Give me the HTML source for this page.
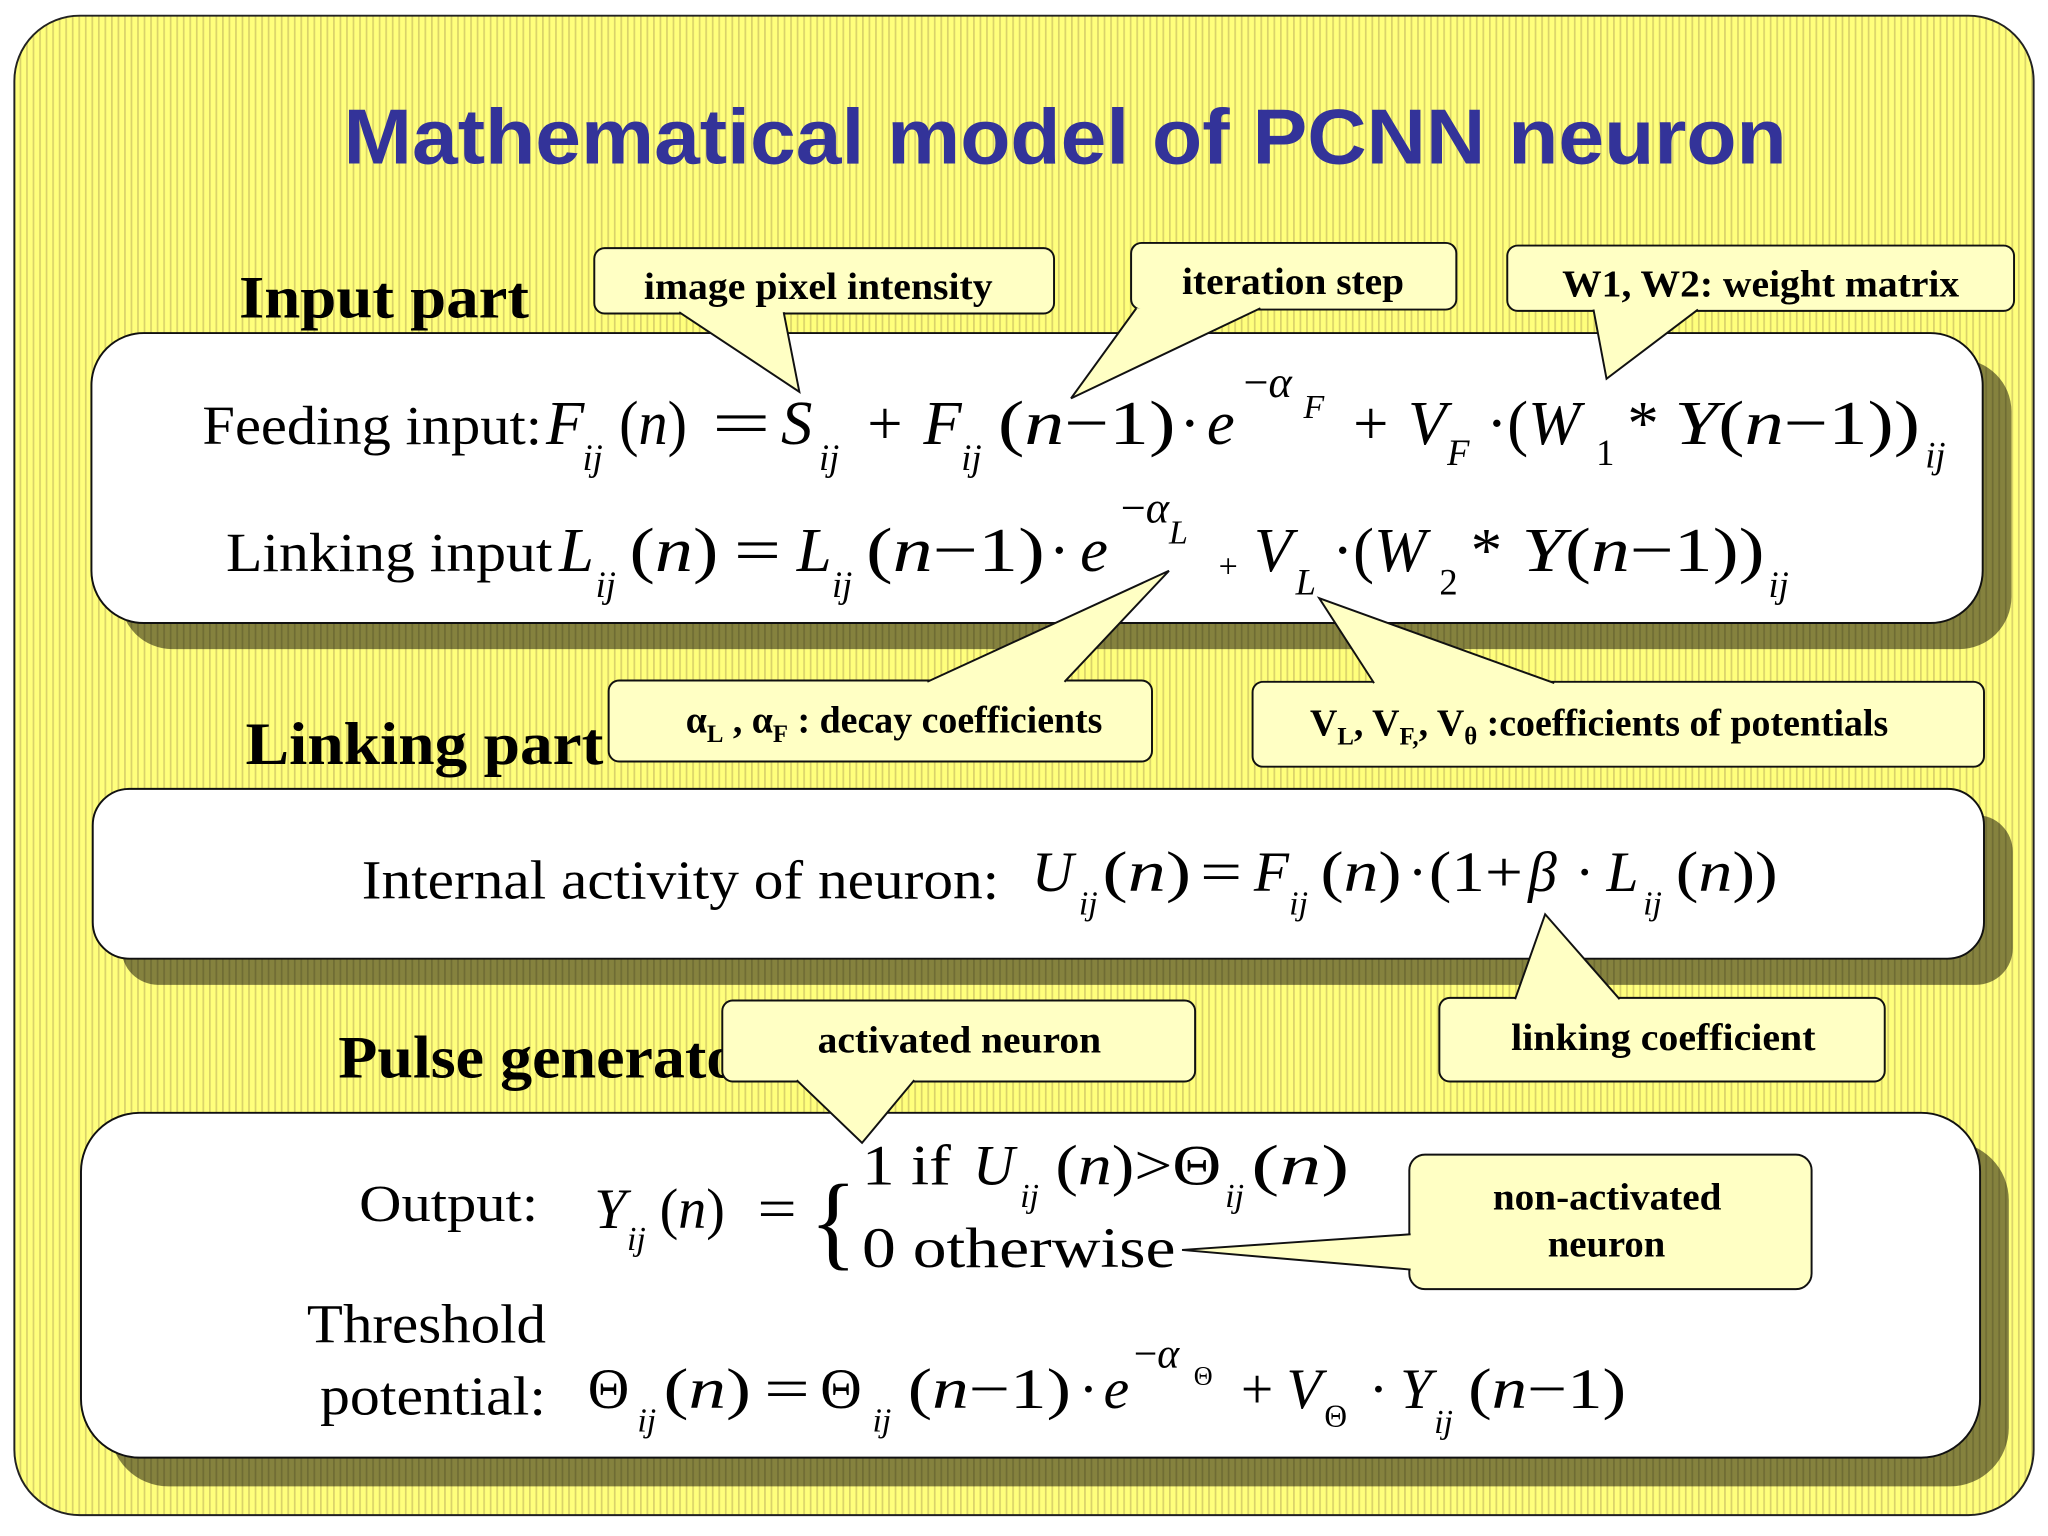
<!DOCTYPE html>
<html><head><meta charset="utf-8"><style>
html,body{margin:0;padding:0;background:#fff;}
svg{display:block}
.t{font-family:"Liberation Serif",serif;fill:#000}
.i{font-style:italic}
.b{font-weight:bold}
</style></head><body>
<svg width="2048" height="1536" viewBox="0 0 1568 1176" xmlns="http://www.w3.org/2000/svg">
<defs>
<pattern id="st" width="5" height="10" patternUnits="userSpaceOnUse">
<rect width="5" height="10" fill="#ffff7c"/>
<rect x="0" width="1.3" height="10" fill="#d9d26a"/>
</pattern>
<pattern id="sh" width="5" height="10" patternUnits="userSpaceOnUse">
<rect width="5" height="10" fill="#85823e"/>
<rect x="0" width="1.3" height="10" fill="#6f6c34"/>
</pattern>
</defs>
<rect x="11" y="12" width="1546" height="1148" rx="50" fill="url(#st)" stroke="#222" stroke-width="1.5"/>
<text x="263" y="125" textLength="1105" lengthAdjust="spacingAndGlyphs" font-family="Liberation Sans,sans-serif" font-weight="bold" font-size="60" fill="#333399">Mathematical model of PCNN neuron</text>

<rect x="92" y="275" width="1448" height="222" rx="40" fill="url(#sh)"/>
<rect x="70" y="255" width="1448" height="222" rx="40" fill="#fff" stroke="#111" stroke-width="1.5"/>
<rect x="93" y="624" width="1448" height="130" rx="28" fill="url(#sh)"/>
<rect x="71" y="604" width="1448" height="130" rx="28" fill="#fff" stroke="#111" stroke-width="1.5"/>
<rect x="84" y="874" width="1454" height="264" rx="45" fill="url(#sh)"/>
<rect x="62" y="852" width="1454" height="264" rx="45" fill="#fff" stroke="#111" stroke-width="1.5"/>

<g class="t b" font-size="46">
<text x="183" y="243" textLength="222" lengthAdjust="spacingAndGlyphs">Input part</text>
<text x="188" y="585" textLength="274" lengthAdjust="spacingAndGlyphs">Linking part</text>
<text x="259" y="825" textLength="328" lengthAdjust="spacingAndGlyphs">Pulse generator</text>
</g>

<g class="t" font-size="48">
<text x="155" y="340" font-size="42" textLength="260" lengthAdjust="spacingAndGlyphs">Feeding input:</text>
<text x="418" y="340" class="i">F</text><text x="446" y="360" class="i" font-size="28">ij</text>
<text x="474" y="340" textLength="52" lengthAdjust="spacingAndGlyphs">(<tspan class="i">n</tspan>)</text>
<text x="545" y="340" textLength="45" lengthAdjust="spacingAndGlyphs">=</text>
<text x="598" y="340" class="i">S</text><text x="627" y="360" class="i" font-size="28">ij</text>
<text x="664" y="340">+</text>
<text x="707" y="340" class="i">F</text><text x="736" y="360" class="i" font-size="28">ij</text>
<text x="764" y="340" textLength="136" lengthAdjust="spacingAndGlyphs">(<tspan class="i">n</tspan>−1)</text>
<text x="903" y="340">·</text><text x="924" y="340" class="i">e</text>
<text x="952" y="304" font-size="34">−<tspan class="i">α</tspan></text><text x="998" y="320" class="i" font-size="26">F</text>
<text x="1036" y="340">+</text><text x="1078" y="340" class="i">V</text><text x="1108" y="356" class="i" font-size="28">F</text>
<text x="1138" y="340">·(<tspan class="i">W</tspan></text><text x="1222" y="356" font-size="28">1</text>
<text x="1246" y="340">*</text>
<text x="1282" y="340" textLength="188" lengthAdjust="spacingAndGlyphs"><tspan class="i">Y</tspan>(<tspan class="i">n</tspan>−1))</text><text x="1474" y="358" class="i" font-size="28">ij</text>

<text x="173" y="437" font-size="42" textLength="250" lengthAdjust="spacingAndGlyphs">Linking input</text>
<text x="428" y="437" class="i">L</text><text x="456" y="457" class="i" font-size="28">ij</text>
<text x="482" y="437" textLength="68" lengthAdjust="spacingAndGlyphs">(<tspan class="i">n</tspan>)</text>
<text x="562" y="437" textLength="36" lengthAdjust="spacingAndGlyphs">=</text>
<text x="610" y="437" class="i">L</text><text x="637" y="457" class="i" font-size="28">ij</text>
<text x="663" y="437" textLength="137" lengthAdjust="spacingAndGlyphs">(<tspan class="i">n</tspan>−1)</text>
<text x="803" y="437">·</text><text x="827" y="437" class="i">e</text>
<text x="858" y="400" font-size="34">−<tspan class="i">α</tspan></text><text x="895" y="416" class="i" font-size="26">L</text>
<text x="933" y="442" font-size="26">+</text>
<text x="960" y="437" class="i">V</text><text x="992" y="455" class="i" font-size="28">L</text>
<text x="1020" y="437">·(<tspan class="i">W</tspan></text><text x="1102" y="455" font-size="28">2</text>
<text x="1126" y="437">*</text>
<text x="1165" y="437" textLength="186" lengthAdjust="spacingAndGlyphs"><tspan class="i">Y</tspan>(<tspan class="i">n</tspan>−1))</text><text x="1354" y="457" class="i" font-size="28">ij</text>
</g>

<g class="t" font-size="44">
<text x="277" y="688" font-size="42" textLength="488" lengthAdjust="spacingAndGlyphs">Internal activity of neuron:</text>
<text x="790" y="682" class="i">U</text><text x="826" y="700" class="i" font-size="26">ij</text>
<text x="844" y="682" textLength="68" lengthAdjust="spacingAndGlyphs">(<tspan class="i">n</tspan>)</text>
<text x="919" y="682" textLength="32" lengthAdjust="spacingAndGlyphs">=</text>
<text x="960" y="682" class="i">F</text><text x="987" y="700" class="i" font-size="26">ij</text>
<text x="1011" y="682" textLength="62" lengthAdjust="spacingAndGlyphs">(<tspan class="i">n</tspan>)</text>
<text x="1078" y="682">·</text>
<text x="1094" y="682" textLength="72" lengthAdjust="spacingAndGlyphs">(1+</text>
<text x="1170" y="682" class="i">β</text><text x="1206" y="682">·</text>
<text x="1230" y="682" class="i">L</text><text x="1258" y="700" class="i" font-size="26">ij</text>
<text x="1283" y="682" textLength="78" lengthAdjust="spacingAndGlyphs">(<tspan class="i">n</tspan>))</text>
</g>

<g class="t" font-size="44">
<text x="275" y="935" font-size="40" textLength="137" lengthAdjust="spacingAndGlyphs">Output:</text>
<text x="455" y="940" class="i">Y</text><text x="480" y="957" class="i" font-size="26">ij</text>
<text x="505" y="940" textLength="50" lengthAdjust="spacingAndGlyphs">(<tspan class="i">n</tspan>)</text>
<text x="580" y="940" textLength="30" lengthAdjust="spacingAndGlyphs">=</text>
<text x="620" y="962" font-size="80" textLength="36" lengthAdjust="spacingAndGlyphs">{</text>
<text x="660" y="907" textLength="68" lengthAdjust="spacingAndGlyphs">1 if</text>
<text x="745" y="907" class="i">U</text><text x="781" y="924" class="i" font-size="26">ij</text>
<text x="808" y="907" textLength="127" lengthAdjust="spacingAndGlyphs">(<tspan class="i">n</tspan>)&gt;Θ</text><text x="938" y="924" class="i" font-size="26">ij</text>
<text x="958" y="907" textLength="75" lengthAdjust="spacingAndGlyphs">(<tspan class="i">n</tspan>)</text>
<text x="660" y="970" textLength="240" lengthAdjust="spacingAndGlyphs">0  otherwise</text>
<text x="235" y="1028" font-size="42" textLength="183" lengthAdjust="spacingAndGlyphs">Threshold</text>
<text x="245" y="1083" font-size="42" textLength="173" lengthAdjust="spacingAndGlyphs">potential:</text>
<text x="450" y="1078">Θ</text><text x="488" y="1096" class="i" font-size="26">ij</text>
<text x="508" y="1078" textLength="67" lengthAdjust="spacingAndGlyphs">(<tspan class="i">n</tspan>)</text>
<text x="585" y="1078" textLength="35" lengthAdjust="spacingAndGlyphs">=</text>
<text x="628" y="1078">Θ</text><text x="668" y="1096" class="i" font-size="26">ij</text>
<text x="695" y="1078" textLength="125" lengthAdjust="spacingAndGlyphs">(<tspan class="i">n</tspan>−1)</text>
<text x="826" y="1078">·</text><text x="845" y="1078" class="i">e</text>
<text x="868" y="1047" font-size="32">−<tspan class="i">α</tspan></text><text x="914" y="1060" font-size="20">Θ</text>
<text x="950" y="1078">+</text><text x="985" y="1078" class="i">V</text><text x="1014" y="1092" font-size="24">Θ</text>
<text x="1048" y="1078">·</text><text x="1072" y="1078" class="i">Y</text><text x="1098" y="1097" class="i" font-size="26">ij</text>
<text x="1124" y="1078" textLength="121" lengthAdjust="spacingAndGlyphs">(<tspan class="i">n</tspan>−1)</text>
</g>

<g fill="#ffffc4" stroke="#111" stroke-width="1.5">
<rect x="455" y="190" width="352" height="50" rx="8"/>
<path d="M520,239 L612,300 L600,239"/>
<rect x="866" y="186" width="249" height="51" rx="8"/>
<path d="M870,236 L820,305 L965,236"/>
<rect x="1154" y="188" width="388" height="50" rx="8"/>
<path d="M1220,237 L1230,290 L1300,237"/>
<rect x="466" y="521" width="416" height="62" rx="8"/>
<path d="M710,522 L895,437 L815,522"/>
<rect x="959" y="522" width="560" height="65" rx="8"/>
<path d="M1052,523 L1010,458 L1190,523"/>
<rect x="553" y="766" width="362" height="62" rx="8"/>
<path d="M610,827 L660,875 L700,827"/>
<rect x="1102" y="764" width="341" height="64" rx="8"/>
<path d="M1160,765 L1183,700 L1240,765"/>
<rect x="1079" y="884" width="308" height="103" rx="12"/>
<path d="M1080,945 L905,957 L1080,972"/>
</g>
<g class="t b" font-size="29">
<text x="493" y="229" textLength="267" lengthAdjust="spacingAndGlyphs">image pixel intensity</text>
<text x="905" y="225" textLength="170" lengthAdjust="spacingAndGlyphs">iteration step</text>
<text x="1196" y="227" textLength="304" lengthAdjust="spacingAndGlyphs">W1, W2: weight matrix</text>
<text x="525" y="561">α<tspan font-size="19" dy="7">L</tspan><tspan dy="-7"> , α</tspan><tspan font-size="19" dy="7">F</tspan><tspan dy="-7"> : decay coefficients</tspan></text>
<text x="1003" y="563">V<tspan font-size="19" dy="7">L</tspan><tspan dy="-7">, V</tspan><tspan font-size="19" dy="7">F,</tspan><tspan dy="-7">, V</tspan><tspan font-size="19" dy="7">θ</tspan><tspan dy="-7">  :coefficients of potentials</tspan></text>
<text x="626" y="806" textLength="217" lengthAdjust="spacingAndGlyphs">activated neuron</text>
<text x="1157" y="804" textLength="233" lengthAdjust="spacingAndGlyphs">linking coefficient</text>
<text x="1143" y="926" textLength="175" lengthAdjust="spacingAndGlyphs">non-activated</text>
<text x="1185" y="962" textLength="90" lengthAdjust="spacingAndGlyphs">neuron</text>
</g>
</svg>
</body></html>
